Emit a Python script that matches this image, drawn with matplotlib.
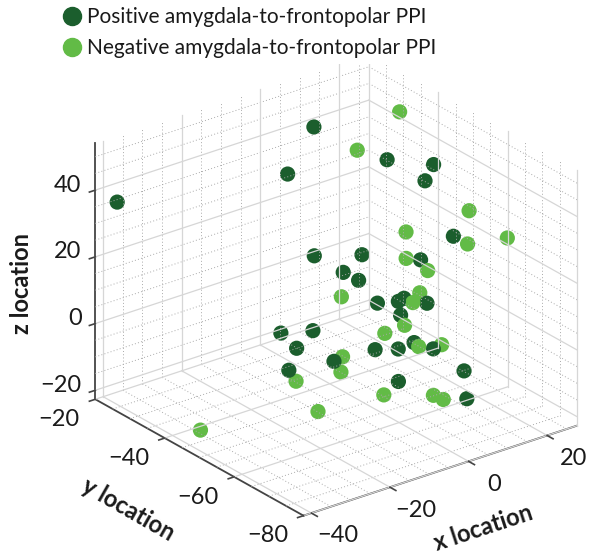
import matplotlib
matplotlib.use('Agg')
import matplotlib.pyplot as plt
import matplotlib.patches as mpatches
from matplotlib.lines import Line2D
from mpl_toolkits.mplot3d import proj3d
import numpy as np

plt.rcParams['font.family'] = ['Lato', 'DejaVu Sans']

# positive amygdala-to-frontopolar PPI locations
pos_x = [-38.2, 4.8, -6.3, 14.6, 17.6, 11.0, 13.8, -8.35, 8.2, -5.4, -5.9, 18.7, 3.3, 18.9, -0.2,
         11.5, 9.2, -30.1, -8.7, -30.5, -1.7, -21.0, -36.9, 8.6, 3.8, 13.1, 12.1, -4.6, 8.4]
pos_y = [-22, -30, -35, -40, -50, -55, -60, -45, -40, -50, -55, -45, -50, -40, -60,
         -55, -50, -60, -45, -65, -55, -65, -70, -50, -60, -55, -65, -65, -70]
pos_z = [36.1, 46.6, 39.7, 38.8, 42.0, 42.6, 27.8, 21.8, 12.8, 18.6, 19.3, 10.1, 6.0, -4.4, 13.7,
         5.7, 0.1, 15.8, -0.5, 14.3, -3.1, 6.7, 13.1, -9.8, -0.2, -8.6, -9.0, -5.7, -13.0]

# negative amygdala-to-frontopolar PPI locations
neg_x = [22.2, 7.0, 17.8, 15.0, 13.0, 18.7, 6.2, 16.1, -14.7, 18.5, 3.5, 5.8, 9.6, -14.4, -10.4,
         -33.3, -20.65, -38.2, 0.56, 19.65, -3.9, 4.3, 2.4]
neg_y = [-35, -40, -60, -45, -65, -70, -55, -50, -60, -45, -60, -55, -45, -60, -55,
         -68, -60, -46, -65, -50, -60, -65, -70]
neg_z = [47.3, 44.6, 33.9, 19.9, 28.7, 31.2, 21.2, 10.8, 20.7, 0.3, 11.9, 1.3, -8.4, 2.6, -6.45,
         7.25, -11.4, -18.3, 2.75, -12.8, -12.9, -13.3, -10.9]

labels = ['Positive amygdala-to-frontopolar PPI', 'Negative amygdala-to-frontopolar PPI']
dark = '#1b5e2d'
light = '#62bb46'

xticks = [-40, -20, 0, 20]
yticks = [-80, -60, -40, -20]
zticks = [-20, 0, 20, 40]
xmin, xmax = -42, 27.6
ymin, ymax = -80, -20
zmin, zmax = -22.7, 54

W, H = 600, 559
fig = plt.figure(figsize=(W / 100, H / 100), dpi=100)
ax = fig.add_axes([0.05, 0.05, 0.9, 0.9], projection='3d', proj_type='ortho',
                  computed_zorder=False)
ax.view_init(elev=25.4, azim=-127.5)
ax.set_box_aspect((344.7, 342, 283.2))

# panes: no fill, own grid (major solid, minor dotted)
for a in (ax.xaxis, ax.yaxis, ax.zaxis):
    a.pane.fill = False
    a.pane.set_edgecolor('none')
    a.line.set_color('#444444')
    a.line.set_linewidth(1.3)
ax.grid(False)

minor = dict(color='#aaaaaa', lw=0.7, ls=(0, (1, 2.3)))
major = dict(color='#d6d6d6', lw=0.9, ls='-')
for st, keep in ((minor, False), (major, True)):
    for xv in np.arange(-40, 26, 5):
        if (xv % 20 == 0) != keep:
            continue
        ax.plot([xv, xv], [ymax, ymax], [zmin, zmax], **st)
        ax.plot([xv, xv], [ymin, ymax], [zmin, zmin], **st)
    for yv in np.arange(-80, -19, 5):
        if (yv % 20 == 0) != keep:
            continue
        ax.plot([xmax, xmax], [yv, yv], [zmin, zmax], **st)
        ax.plot([xmin, xmax], [yv, yv], [zmin, zmin], **st)
    for zv in np.arange(-20, 51, 5):
        if (zv % 20 == 0) != keep:
            continue
        ax.plot([xmin, xmax], [ymax, ymax], [zv, zv], **st)
        ax.plot([xmax, xmax], [ymin, ymax], [zv, zv], **st)

# one collection so that points are depth sorted together
all_x = np.array(pos_x + neg_x)
all_y = np.array(pos_y + neg_y)
all_z = np.array(pos_z + neg_z)
cols = [dark] * len(pos_x) + [light] * len(neg_x)
ax.scatter(all_x, all_y, all_z, c=cols, s=120, depthshade=False, linewidths=0, alpha=1)

ax.set_xlim(xmin, xmax)
ax.set_ylim(ymin, ymax)
ax.set_zlim(zmin, zmax)
ax.set_xticks([])
ax.set_yticks([])
ax.set_zticks([])

# tick marks on the axis edges
tick = dict(color='#444444', lw=1.2)
for v in xticks:
    ax.plot([v, v], [ymin, ymin - 1.7], [zmin, zmin], **tick)
for v in yticks:
    ax.plot([xmin, xmin - 1.5], [v, v], [zmin, zmin], **tick)
for v in zticks:
    ax.plot([xmin, xmin - 1.5], [ymax, ymax], [v, v], **tick)

# fit the projected box to the reference layout
fig.canvas.draw()
def to_px(x, y, z):
    xs, ys, _ = proj3d.proj_transform(x, y, z, ax.M)
    return ax.transData.transform((xs, ys))

corners = [(xmin, ymax, zmin), (xmax, ymin, zmin), (xmin, ymin, zmin), (xmin, ymax, zmax)]
targets = np.array([(95.3, H - 399), (577, H - 426), (303.5, H - 516), (95.3, H - 143)])
pts = np.array([to_px(*c) for c in corners])
pos = ax.get_position()
o0 = np.array([pos.x0 * W, pos.y0 * H])
s0 = pos.width * W
k = (targets[1, 0] - targets[0, 0]) / (pts[1, 0] - pts[0, 0])
s1 = s0 * k
f = (pts - o0) / s0
o1 = (targets - s1 * f).mean(axis=0)
ax.set_position([o1[0] / W, o1[1] / H, s1 / W, s1 / H])
fig.canvas.draw()

# tick labels as flat texts at the projected positions
def fmt(v):
    return str(v).replace('-', '\u2212')

tk = dict(fontsize=17, color='#1a1a1a')
def tick_label(x, y, z, s, ha):
    p = to_px(x, y, z)
    fig.text(p[0] / W, p[1] / H, s, ha=ha, va='center', **tk)

for v in xticks:
    tick_label(v, ymin - 7.5, zmin - 2.5, fmt(v), 'center')
for v in yticks:
    tick_label(xmin - 9.2, v, zmin - 2.5, fmt(v), 'center')
for v in zticks:
    tick_label(xmin - 2, ymax + 1.7, v + 1.3, fmt(v), 'right')

# axis titles
lab = dict(fontsize=17, fontweight='bold', color='#1a1a1a', ha='center', va='center',
           rotation_mode='anchor')
fig.text(22 / W, 1 - 284 / H, 'z location', rotation=90, **lab)
fig.text(128 / W, 1 - 510 / H, 'y location', rotation=-29.8, **lab)
fig.text(483 / W, 1 - 528 / H, 'x location', rotation=18.2, **lab)

# white legend band at top
fig.patches.append(mpatches.Rectangle((0, 1 - 64 / H), 1, 64 / H, transform=fig.transFigure,
                                      facecolor='white', edgecolor='none', zorder=2))
handles = [Line2D([], [], ls='none', marker='o', ms=13, mfc=dark, mec=dark),
           Line2D([], [], ls='none', marker='o', ms=13, mfc=light, mec=light)]
fig.legend(handles, labels, loc='upper left', bbox_to_anchor=(64 / W, 1 - 7 / H),
           frameon=False, prop=dict(size=15), handlelength=0.8, labelcolor='#1a1a1a',
           handletextpad=0.3, labelspacing=0.55, borderpad=0, borderaxespad=0)

fig.savefig('out.png', dpi=100, facecolor='white')
